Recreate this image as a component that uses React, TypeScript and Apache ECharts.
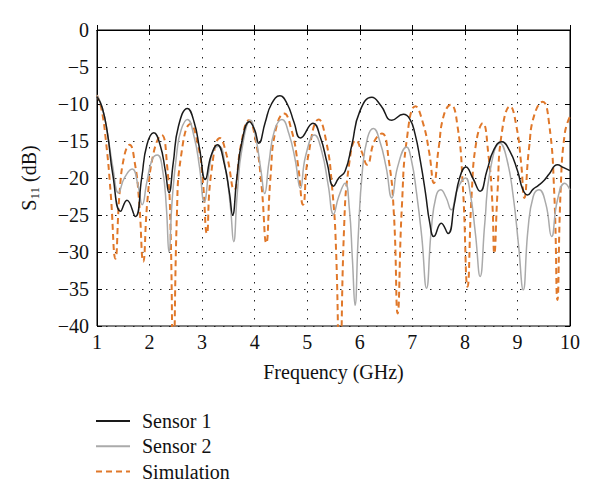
import React, { useEffect, useRef } from "react";
import * as echarts from "echarts";

const xTicks = [1, 2, 3, 4, 5, 6, 7, 8, 9, 10];
const yTicks = [0, -5, -10, -15, -20, -25, -30, -35, -40];
const seriesNames = ["Sensor 1", "Sensor 2", "Simulation"];

const sensor1: [number, number][] = [
  [1.0, -9.0], [1.1, -10.5], [1.2, -14], [1.3, -19.5], [1.45, -24.5], [1.57, -23], [1.73, -25.2],
  [1.85, -20], [1.95, -15.5], [2.08, -13.9], [2.2, -15.5], [2.3, -19], [2.37, -22], [2.45, -18],
  [2.55, -13], [2.72, -10.6], [2.85, -12.5], [2.95, -16], [3.06, -20.2], [3.17, -17], [3.29, -15.5],
  [3.42, -18], [3.52, -22], [3.58, -25], [3.66, -20], [3.76, -15], [3.9, -12.4], [4.0, -13.5],
  [4.08, -15.3], [4.2, -12.5], [4.32, -10], [4.48, -8.9], [4.62, -10], [4.75, -12.5], [4.87, -14.6],
  [5.11, -12.6], [5.25, -14.5], [5.38, -18], [5.5, -21.1], [5.6, -20], [5.72, -19.1], [5.85, -15.5],
  [6.0, -11], [6.23, -9.1], [6.4, -10.2], [6.61, -12.2], [6.83, -11.4], [6.95, -12], [7.05, -14],
  [7.15, -17.6], [7.25, -22], [7.33, -26], [7.41, -27.9], [7.55, -26.1], [7.68, -27.5], [7.8, -23.5],
  [7.9, -20], [8.02, -18.5], [8.15, -20], [8.29, -21.8], [8.42, -19], [8.55, -16.2], [8.7, -15.1],
  [8.85, -16.3], [9.0, -19], [9.1, -21.5], [9.19, -22.3], [9.3, -21.5], [9.4, -21], [9.51, -20.3],
  [9.6, -19.5], [9.76, -18.2], [9.88, -18.6], [10, -19],
];

const sensor2: [number, number][] = [
  [1.0, -8.8], [1.1, -10.5], [1.2, -14], [1.3, -18.5], [1.41, -22], [1.52, -20], [1.67, -18.8],
  [1.78, -21], [1.86, -23.6], [1.95, -20.5], [2.05, -17.5], [2.15, -16.9], [2.25, -19], [2.32, -24],
  [2.37, -30], [2.43, -23], [2.52, -16.5], [2.6, -13.5], [2.72, -12.1], [2.85, -14.5], [2.95, -18.5],
  [3.04, -23.2], [3.14, -18.5], [3.22, -16.2], [3.32, -15.7], [3.45, -19], [3.54, -24], [3.6, -28.6],
  [3.67, -22], [3.76, -16], [3.92, -12.2], [4.02, -14.5], [4.12, -19], [4.19, -22.1], [4.27, -18],
  [4.38, -13.5], [4.52, -12.1], [4.65, -14], [4.77, -17.5], [4.87, -21.4], [4.97, -17], [5.14, -14.2],
  [5.28, -16.5], [5.4, -21], [5.5, -24.9], [5.6, -22.5], [5.72, -20.7], [5.8, -24], [5.86, -31],
  [5.91, -37.2], [5.97, -28], [6.05, -19], [6.15, -14.5], [6.26, -13.3], [6.38, -15], [6.5, -18.5],
  [6.61, -22.7], [6.72, -18.5], [6.89, -15.8], [6.98, -17.5], [7.08, -22], [7.18, -28], [7.27, -34.9],
  [7.36, -27], [7.45, -22.5], [7.54, -21.6], [7.64, -22.6], [7.74, -24.3], [7.86, -21.5], [8.01, -20.0],
  [8.1, -22], [8.2, -27.5], [8.29, -33.3], [8.38, -26], [8.48, -19], [8.67, -15.3], [8.8, -17.5],
  [8.92, -22.5], [9.02, -29], [9.11, -35.1], [9.2, -27], [9.3, -22.5], [9.41, -21.6], [9.54, -23.5],
  [9.65, -27.9], [9.76, -23], [9.9, -20.7], [10, -21.6],
];

const simulation: [number, number][] = [
  [1.0, -8.8], [1.08, -10.5], [1.17, -15], [1.26, -22], [1.35, -30.9], [1.43, -22], [1.52, -17],
  [1.62, -15.5], [1.72, -18], [1.8, -23], [1.88, -31.3], [1.96, -23], [2.08, -16.5], [2.23, -14.2],
  [2.33, -18], [2.4, -27], [2.45, -50], [2.52, -25], [2.6, -17], [2.78, -12.7], [2.92, -15.5],
  [3.01, -20], [3.09, -27.5], [3.17, -19.5], [3.34, -14.6], [3.47, -17], [3.61, -21.6], [3.74, -15.5],
  [3.89, -12.2], [4.02, -15], [4.13, -21], [4.22, -28.8], [4.3, -20], [4.4, -13.5], [4.56, -11.3],
  [4.7, -13.5], [4.82, -18], [4.92, -23.6], [5.02, -17], [5.22, -12.1], [5.36, -15], [5.47, -21],
  [5.55, -30], [5.62, -50], [5.7, -27], [5.8, -18], [5.93, -14.9], [6.04, -16.5], [6.14, -18.2],
  [6.28, -15], [6.42, -14.0], [6.55, -17.5], [6.65, -25], [6.72, -38.3], [6.8, -24], [6.9, -14.5],
  [7.06, -10.3], [7.2, -12.5], [7.32, -16.5], [7.41, -20.7], [7.5, -16], [7.6, -11.5], [7.73, -10.1],
  [7.86, -13], [7.96, -21], [8.05, -34.7], [8.13, -22], [8.22, -15], [8.34, -12.6], [8.45, -17],
  [8.52, -23], [8.56, -30.2], [8.62, -22], [8.7, -14], [8.86, -10.3], [8.98, -13], [9.07, -18],
  [9.13, -22.7], [9.22, -16], [9.32, -11.5], [9.48, -9.7], [9.6, -12.5], [9.7, -22], [9.76, -36.5],
  [9.82, -22], [9.9, -14], [10, -11.7],
];

const FONT = "Liberation Serif";
const FS = 20;

export default function App() {
  const ref = useRef<HTMLDivElement>(null);
  useEffect(() => {
    if (!ref.current) return;
    const chart = echarts.init(ref.current, null, { renderer: "svg" });
    const dotted = { show: true, lineStyle: { color: "#222", width: 1, type: [1.5, 7.5] as any } };
    const baseX = {
      type: "value" as const,
      min: xTicks[0],
      max: xTicks[xTicks.length - 1],
      interval: 1,
      axisLine: { show: true, lineStyle: { color: "#000", width: 1 } },
      axisTick: { show: true, inside: true, length: 5, lineStyle: { color: "#000" } },
    };
    const baseY = {
      type: "value" as const,
      min: yTicks[yTicks.length - 1],
      max: yTicks[0],
      interval: 5,
      axisLine: { show: true, lineStyle: { color: "#000", width: 1 } },
      axisTick: { show: true, inside: true, length: 5, lineStyle: { color: "#000" } },
    };
    chart.setOption({
      animation: false,
      backgroundColor: "#fff",
      textStyle: { fontFamily: FONT },
      grid: { left: 97, right: 30, top: 30, bottom: 178, show: true, borderColor: "#000", borderWidth: 1 },
      legend: {
        orient: "vertical",
        left: 90,
        top: 405,
        itemWidth: 34,
        itemHeight: 14,
        itemGap: 3.3,
        data: seriesNames,
        itemStyle: { opacity: 0 },
        textStyle: { fontFamily: FONT, fontSize: FS, color: "#111", lineHeight: 22, padding: [0, 0, 0, 7] },
      },
      xAxis: [
        {
          ...baseX,
          position: "bottom",
          name: "Frequency (GHz)",
          nameLocation: "middle",
          nameGap: 36,
          nameTextStyle: { fontFamily: FONT, fontSize: FS, color: "#111" },
          axisLabel: { fontFamily: FONT, fontSize: FS, color: "#111", margin: 6 },
          splitLine: dotted,
        },
        {
          ...baseX,
          position: "top",
          axisLabel: { show: false },
          splitLine: { show: false },
        },
      ],
      yAxis: [
        {
          ...baseY,
          position: "left",
          name: "{a|S}{b|11}{a| (dB)}",
          nameLocation: "middle",
          nameGap: 56,
          nameRotate: 90,
          nameTextStyle: {
            rich: {
              a: { fontFamily: FONT, fontSize: FS, color: "#111", lineHeight: 25 },
              b: { fontFamily: FONT, fontSize: 13, color: "#111", lineHeight: 14, verticalAlign: "bottom" },
            },
          },
          axisLabel: {
            fontFamily: FONT,
            fontSize: FS,
            color: "#111",
            margin: 8,
            formatter: (v: number) => String(v).replace("-", "\u2212"),
          },
          splitLine: dotted,
        },
        {
          ...baseY,
          position: "right",
          axisLabel: { show: false },
          splitLine: { show: false },
        },
      ],
      series: [
        {
          name: seriesNames[0],
          type: "line",
          data: sensor1,
          smooth: 0.5,
          symbol: "none",
          clip: true,
          z: 4,
          lineStyle: { color: "#1a1a1a", width: 1.5 },
          itemStyle: { color: "#1a1a1a" },
        },
        {
          name: seriesNames[1],
          type: "line",
          data: sensor2,
          smooth: 0.5,
          symbol: "none",
          clip: true,
          z: 3,
          lineStyle: { color: "#aaaaaa", width: 1.5 },
          itemStyle: { color: "#aaaaaa" },
        },
        {
          name: seriesNames[2],
          type: "line",
          data: simulation,
          smooth: 0.5,
          symbol: "none",
          clip: true,
          z: 2,
          lineStyle: { color: "#e0782a", width: 2, type: [6, 4] as any },
          itemStyle: { color: "#e0782a" },
        },
      ],
    });
    return () => chart.dispose();
  }, []);
  return <div ref={ref} style={{ width: 600, height: 504, position: "absolute", left: 0, top: 0 }} />;
}
